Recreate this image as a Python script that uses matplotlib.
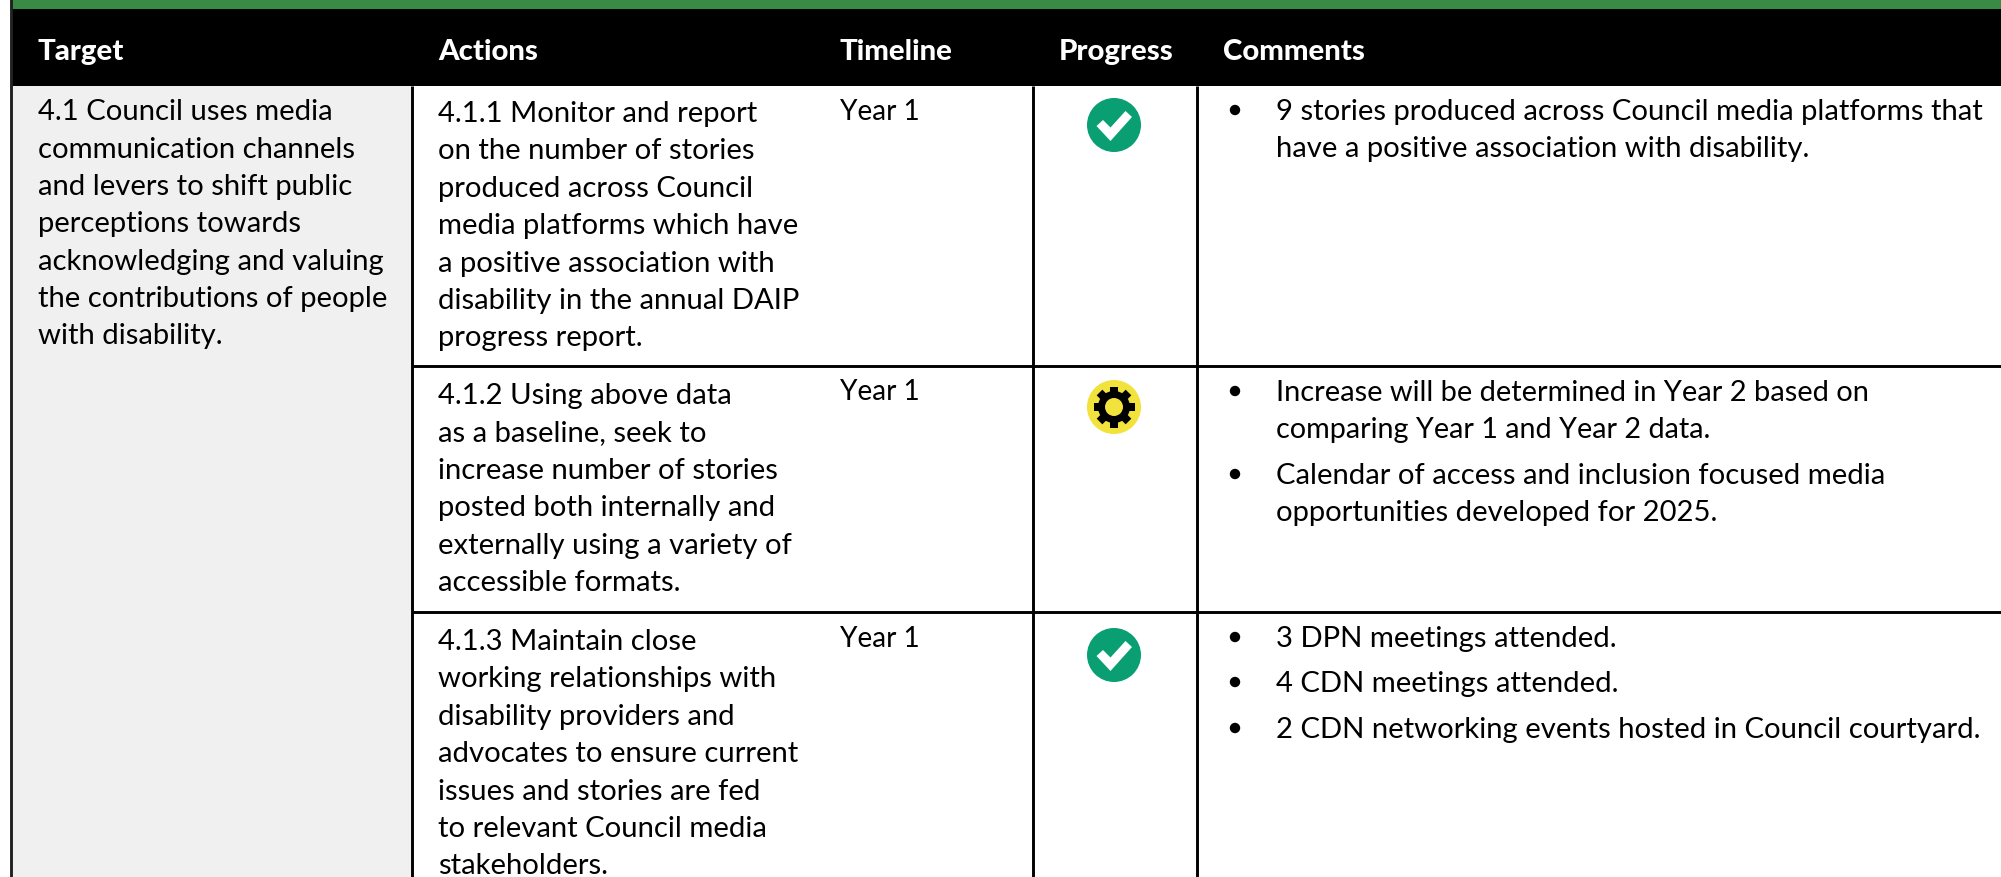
import matplotlib
matplotlib.use("Agg")
import matplotlib.pyplot as plt
from matplotlib.patches import Rectangle, Circle, Polygon
from matplotlib.transforms import Affine2D

headers = ["Target", "Actions", "Timeline", "Progress", "Comments"]
target_lines = ["4.1 Council uses media", "communication channels", "and levers to shift public",
                "perceptions towards", "acknowledging and valuing",
                "the contributions of people", "with disability."]
action_lines = [
    ["4.1.1 Monitor and report", "on the number of stories", "produced across Council",
     "media platforms which have", "a positive association with",
     "disability in the annual DAIP", "progress report."],
    ["4.1.2 Using above data", "as a baseline, seek to", "increase number of stories",
     "posted both internally and", "externally using a variety of", "accessible formats."],
    ["4.1.3 Maintain close", "working relationships with", "disability providers and",
     "advocates to ensure current", "issues and stories are fed",
     "to relevant Council media", "stakeholders."],
]
timeline = ["Year 1", "Year 1", "Year 1"]
status = ["done", "progress", "done"]
comment_lines = [
    [["9 stories produced across Council media platforms that",
      "have a positive association with disability."]],
    [["Increase will be determined in Year 2 based on", "comparing Year 1 and Year 2 data."],
     ["Calendar of access and inclusion focused media", "opportunities developed for 2025."]],
    [["3 DPN meetings attended."], ["4 CDN meetings attended."],
     ["2 CDN networking events hosted in Council courtyard."]],
]

W, H = 2001, 878
col_x = [11, 412, 1033, 1197]
row_y = [87, 367, 613]
header_x = [38, 438, 840, 1059, 1223]
LINE = 37.4
FS = 21.05
YE_KERN = 3.5  # px: the "Ye" pair is tighter in the reference than matplotlib sets it

plt.rcParams["font.family"] = ["Lato", "Carlito", "Open Sans", "DejaVu Sans"]
fig = plt.figure(figsize=(W / 100, H / 100), dpi=100, facecolor="white")
ax = fig.add_axes([0, 0, 1, 1])
ax.set_xlim(0, W)
ax.set_ylim(H, 0)
ax.axis("off")
renderer = fig.canvas.get_renderer()

ax.add_patch(Rectangle((col_x[0], 0), W, 10, fc="#388a44", ec="none"))
ax.add_patch(Rectangle((col_x[0], 10), W, 77, fc="black", ec="none"))
ax.add_patch(Rectangle((col_x[0], 87), col_x[1] - col_x[0], H - 87, fc="#f0f0f0", ec="none"))

for x, h in zip(header_x, headers):
    ax.text(x, 60, h, color="white", fontsize=21.15, fontweight="black", va="baseline")

lw = 2.1
ax.plot([col_x[0]] * 2, [0, H], color="#222222", lw=lw, solid_capstyle="butt")
for x in col_x[1:]:
    ax.plot([x, x], [87, H], color="black", lw=lw, solid_capstyle="butt")
for y in row_y[1:]:
    ax.plot([col_x[1], W], [y, y], color="black", lw=lw, solid_capstyle="butt")


def body_text(x, y, s):
    t = ax.text(x, y, s, color="black", fontsize=FS, va="baseline")
    n = s.count("Ye")
    if n:
        w = t.get_window_extent(renderer).width
        t.set_fontsize(FS * (w - YE_KERN * n) / w)
    return t


def lines(x, y0, items, step=LINE):
    for i, s in enumerate(items):
        body_text(x, y0 + i * step, s)


def check(cy):
    cx = 1114
    ax.add_patch(Circle((cx, cy), 27, fc="#0a9f73", ec="none"))
    pts = [(-17.5, 1), (-11, -5), (-3.5, 2.5), (11.5, -14), (18, -8), (-3.5, 16)]
    ax.add_patch(Polygon([(cx + a, cy + b) for a, b in pts], fc="white", ec="none"))


def gear(cy):
    cx = 1114
    ax.add_patch(Circle((cx, cy), 27, fc="#f2e23c", ec="none"))
    ax.add_patch(Circle((cx, cy), 16, fc="black", ec="none"))
    for k in range(8):
        tr = Affine2D().rotate_deg_around(cx, cy, 45 * k) + ax.transData
        ax.add_patch(Rectangle((cx - 4, cy - 20.5), 8, 8, fc="black", ec="none", transform=tr))
    ax.add_patch(Circle((cx, cy), 9, fc="#f2e23c", ec="none"))


lines(38, 120.5, target_lines, step=37.3)
icon_y = [126, 408, 656]
for r, y in enumerate(row_y):
    base = [122, 404, 650][r]
    lines(438, base, action_lines[r])
    body_text(839.5, [120, 400, 647][r], timeline[r])
    (check if status[r] == "done" else gear)(icon_y[r])

comment_base = [[120], [401, 484], [647, 692, 738]]
for r, bullets in enumerate(comment_lines):
    for b, para in enumerate(bullets):
        yb = comment_base[r][b]
        ax.add_patch(Circle((1235, yb - 9), 5.2, fc="black", ec="none"))
        lines(1276, yb, para)

fig.savefig("out.png", dpi=100, facecolor="white")
